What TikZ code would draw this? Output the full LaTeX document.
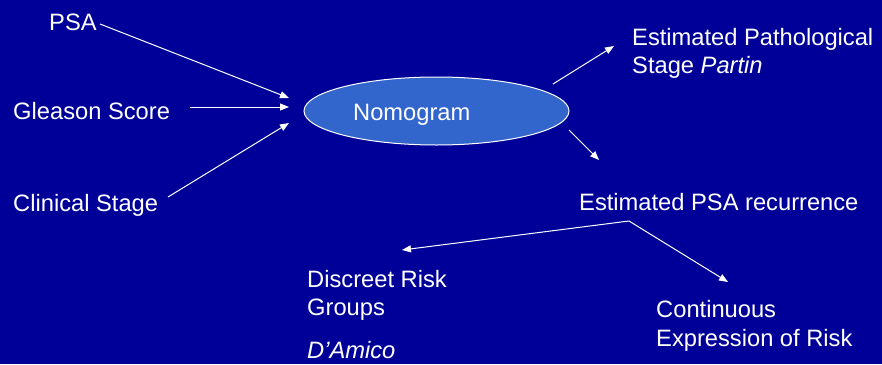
\documentclass[tikz,border=0pt]{standalone}
\usepackage{fontspec}
\setmainfont{Liberation Sans}
\usetikzlibrary{arrows.meta,shapes.geometric}
\definecolor{bg}{HTML}{000099}
\definecolor{ell}{HTML}{3366CC}
\begin{document}
\begin{tikzpicture}[x=1pt,y=-1pt,
  lbl/.style={text=white,font=\fontsize{23.7}{28}\selectfont,inner sep=0pt,anchor=base west},
  arr/.style={draw=white,line width=1pt,-{Triangle[length=9pt,width=7pt]}}]
\fill[bg] (0,0) rectangle (882,364);
\useasboundingbox (0,0) rectangle (882,364);
% ellipse
\node[ellipse, draw=white, fill=ell, line width=1pt, minimum width=265pt, minimum height=68pt, inner sep=0pt] (nomo) at (436.5,111) {};
\node[lbl] (nomotxt) at (353,120) {Nomogram};
% inputs
\node[lbl] (psa) at (49,30) {PSA};
\node[lbl] (gleason) at (13,119) {Gleason Score};
\node[lbl] (clinical) at (13,211) {Clinical Stage};
% outputs
\node[lbl] (path1) at (632,45) {Estimated Pathological};
\node[lbl] (path2) at (632,73) {Stage \textit{Partin}};
\node[lbl] (rec) at (579,210) {Estimated PSA recurrence};
\node[lbl] (disc1) at (307,287) {Discreet Risk};
\node[lbl] (disc2) at (307,315) {Groups};
\node[lbl] (damico) at (307,358) {\textit{D’Amico}};
\node[lbl] (cont1) at (656,317) {Continuous};
\node[lbl] (cont2) at (656,346) {Expression of Risk};
% connector ends
\coordinate (psaS) at (100,24);
\coordinate (psaE) at (289,98);
\coordinate (glS) at (190,107);
\coordinate (glE) at (289,107);
\coordinate (clS) at (168,197);
\coordinate (clE) at (289,123);
\coordinate (paS) at (553,84);
\coordinate (paE) at (614,46);
\coordinate (reS) at (569,130);
\coordinate (reE) at (599,160);
\coordinate (split) at (629,221);
\coordinate (diE) at (402,250);
\coordinate (coE) at (728,282);
\draw[arr] (psaS) -- (psaE);
\draw[arr] (glS) -- (glE);
\draw[arr] (clS) -- (clE);
\draw[arr] (paS) -- (paE);
\draw[arr] (reS) -- (reE);
\draw[arr] (split) -- (diE);
\draw[arr] (split) -- (coE);
\end{tikzpicture}
\end{document}
